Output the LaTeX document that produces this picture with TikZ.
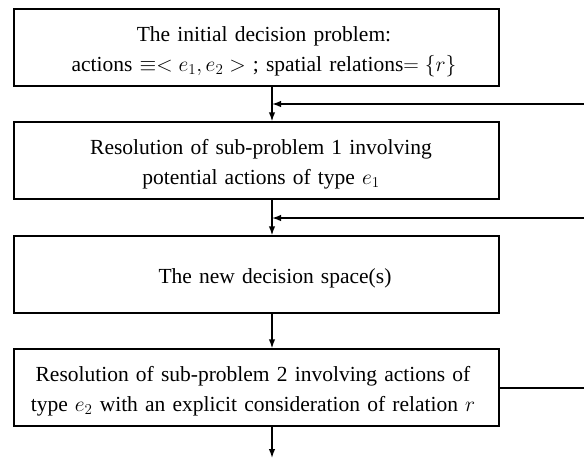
\RequirePackage{fix-cm}
\documentclass[tikz,border=0pt]{standalone}
\usepackage[no-math]{fontspec}
\setmainfont{Liberation Serif}
\usepackage{tikz}
\usetikzlibrary{arrows.meta,
                positioning}

\tikzset{stage/.style={draw, minimum width=485pt, minimum height=77pt,
                       inner sep=0pt, text width=483pt,
                       align=center, font=\fontsize{21.5}{30}\selectfont,
                       execute at begin node={\vskip-7pt\leftskip=#1 plus 1fill
                         \rightskip=0pt plus 1fill\parfillskip=0pt\relax}},
         stage/.default=0pt,
         flow/.style={-{Latex[length=9pt,width=6.5pt]}}}

\begin{document}
\begin{tikzpicture}[x=1pt,y=-1pt,line width=1.4pt]
\useasboundingbox (0,0) rectangle (584,461);
\coordinate (axis) at (272,0);

\node[stage=15pt] (init) at (256.5,47.5)
  {The initial decision problem:\\
   actions $\equiv< e_1, e_2 >$ ; spatial relations$= \{r\}$};
\node[stage=9pt] (sub1) at (256.5,160.5)
  {Resolution of sub-problem 1 involving\\ potential actions of type $e_1$};
\node[stage=37pt] (space) at (256.5,274.5) {The new decision space(s)};
\node[stage=-7pt] (sub2) at (256.5,387.5)
  {Resolution of sub-problem 2 involving actions of\\
   type $e_2$ with an explicit consideration of relation $r$};

\foreach \a/\b in {init/sub1, sub1/space, space/sub2}
  \draw[flow] (\a.south -| axis) -- (\b.north -| axis);
\coordinate (out) at (272,458);
\draw[flow] (sub2.south -| axis) -- (out);

\coordinate (backA) at (584,104);
\coordinate (backB) at (584,218);
\coordinate (backC) at (584,388);
\foreach \c in {backA,backB}
  \draw[flow] (\c) -- (\c -| axis);
\draw (sub2.east |- backC) -- (backC);
\end{tikzpicture}
\end{document}
